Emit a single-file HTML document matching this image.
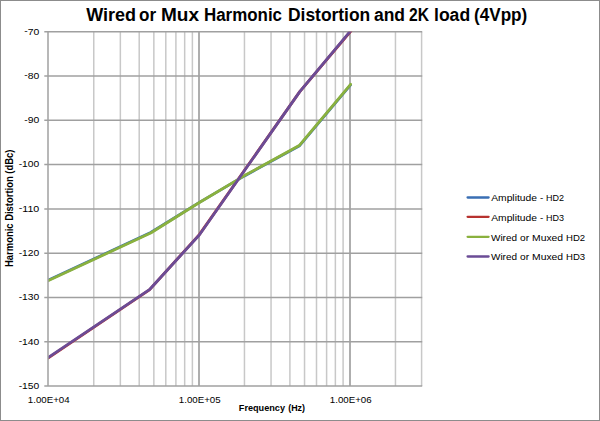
<!DOCTYPE html>
<html><head><meta charset="utf-8"><title>Wired or Mux Harmonic Distortion and 2K load (4Vpp)</title>
<style>
html,body{margin:0;padding:0;background:#fff;width:600px;height:421px;overflow:hidden}
svg{display:block}
text{font-family:"Liberation Sans",Arial,sans-serif}
</style></head>
<body>
<svg width="600" height="421" viewBox="0 0 600 421">
<rect x="0.5" y="0.5" width="599" height="420" fill="#ffffff" stroke="#8c8c8c" stroke-width="1"/>
<g stroke="#c8c8c8" stroke-width="1.5"><line x1="93.76" y1="31.70" x2="93.76" y2="386.10"/><line x1="120.35" y1="31.70" x2="120.35" y2="386.10"/><line x1="139.21" y1="31.70" x2="139.21" y2="386.10"/><line x1="153.84" y1="31.70" x2="153.84" y2="386.10"/><line x1="165.80" y1="31.70" x2="165.80" y2="386.10"/><line x1="175.91" y1="31.70" x2="175.91" y2="386.10"/><line x1="184.67" y1="31.70" x2="184.67" y2="386.10"/><line x1="192.39" y1="31.70" x2="192.39" y2="386.10"/><line x1="199.00" y1="31.70" x2="199.00" y2="386.10"/><line x1="244.46" y1="31.70" x2="244.46" y2="386.10"/><line x1="271.05" y1="31.70" x2="271.05" y2="386.10"/><line x1="289.91" y1="31.70" x2="289.91" y2="386.10"/><line x1="304.54" y1="31.70" x2="304.54" y2="386.10"/><line x1="316.50" y1="31.70" x2="316.50" y2="386.10"/><line x1="326.61" y1="31.70" x2="326.61" y2="386.10"/><line x1="335.37" y1="31.70" x2="335.37" y2="386.10"/><line x1="343.09" y1="31.70" x2="343.09" y2="386.10"/><line x1="350.00" y1="31.70" x2="350.00" y2="386.10"/><line x1="395.46" y1="31.70" x2="395.46" y2="386.10"/><line x1="421.60" y1="31.70" x2="421.60" y2="386.10"/></g>
<g stroke="#a0a0a0" stroke-width="1.5"><line x1="199.00" y1="31.70" x2="199.00" y2="386.10"/><line x1="350.00" y1="31.70" x2="350.00" y2="386.10"/><line x1="44.3" y1="31.70" x2="422.20" y2="31.70"/><line x1="44.3" y1="76.00" x2="422.20" y2="76.00"/><line x1="44.3" y1="120.30" x2="422.20" y2="120.30"/><line x1="44.3" y1="164.60" x2="422.20" y2="164.60"/><line x1="44.3" y1="208.90" x2="422.20" y2="208.90"/><line x1="44.3" y1="253.20" x2="422.20" y2="253.20"/><line x1="44.3" y1="297.50" x2="422.20" y2="297.50"/><line x1="44.3" y1="341.80" x2="422.20" y2="341.80"/><line x1="44.3" y1="386.10" x2="422.20" y2="386.10"/></g>
<clipPath id="pc"><rect x="48.00" y="31.70" width="373.60" height="354.40"/></clipPath>
<g clip-path="url(#pc)" fill="none" stroke-width="2.8" stroke-linejoin="round" stroke-linecap="round">
<polyline points="48.00,280.30 150.70,232.50 199.00,202.60 244.50,175.90 299.60,145.70 350.60,84.80" stroke="#3a6fb4"/>
<polyline points="48.00,358.10 149.40,289.90 199.30,234.60 299.80,91.60 351.30,30.50" stroke="#b7322f"/>
<polyline points="48.00,280.80 150.70,233.00 199.00,202.80 244.50,175.60 299.60,145.20 350.60,84.30" stroke="#8ab13e"/>
<polyline points="48.00,357.60 149.40,289.70 199.30,235.00 299.80,91.60 351.30,30.00" stroke="#6b4c96"/>
</g>
<line x1="48.00" y1="31.70" x2="48.00" y2="386.10" stroke="#a0a0a0" stroke-width="1.5"/>
<g font-size="17.6" font-weight="bold" fill="#000"><text x="86.2" y="20.5" textLength="49.81" lengthAdjust="spacingAndGlyphs">Wired</text><text x="139.0" y="20.5" textLength="17.1" lengthAdjust="spacingAndGlyphs">or</text><text x="161.0" y="20.5" textLength="38.07" lengthAdjust="spacingAndGlyphs">Mux</text><text x="204.0" y="20.5" textLength="78.03" lengthAdjust="spacingAndGlyphs">Harmonic</text><text x="288.0" y="20.5" textLength="82.24" lengthAdjust="spacingAndGlyphs">Distortion</text><text x="374.0" y="20.5" textLength="31.03" lengthAdjust="spacingAndGlyphs">and</text><text x="409.0" y="20.5" textLength="20.0" lengthAdjust="spacingAndGlyphs">2K</text><text x="434.0" y="20.5" textLength="36.14" lengthAdjust="spacingAndGlyphs">load</text><text x="474.0" y="20.5" textLength="53.24" lengthAdjust="spacingAndGlyphs">(4Vpp)</text></g>
<text x="24.30" y="34.50" font-size="9.9" textLength="15.0" lengthAdjust="spacingAndGlyphs" fill="#000"><tspan dy="-0.4">-</tspan><tspan dy="0.4">70</tspan></text>
<text x="24.30" y="78.80" font-size="9.9" textLength="15.0" lengthAdjust="spacingAndGlyphs" fill="#000"><tspan dy="-0.4">-</tspan><tspan dy="0.4">80</tspan></text>
<text x="24.30" y="123.10" font-size="9.9" textLength="15.0" lengthAdjust="spacingAndGlyphs" fill="#000"><tspan dy="-0.4">-</tspan><tspan dy="0.4">90</tspan></text>
<text x="18.70" y="167.40" font-size="9.9" textLength="20.6" lengthAdjust="spacingAndGlyphs" fill="#000"><tspan dy="-0.4">-</tspan><tspan dy="0.4">100</tspan></text>
<text x="18.70" y="211.70" font-size="9.9" textLength="20.6" lengthAdjust="spacingAndGlyphs" fill="#000"><tspan dy="-0.4">-</tspan><tspan dy="0.4">110</tspan></text>
<text x="18.70" y="256.00" font-size="9.9" textLength="20.6" lengthAdjust="spacingAndGlyphs" fill="#000"><tspan dy="-0.4">-</tspan><tspan dy="0.4">120</tspan></text>
<text x="18.70" y="300.30" font-size="9.9" textLength="20.6" lengthAdjust="spacingAndGlyphs" fill="#000"><tspan dy="-0.4">-</tspan><tspan dy="0.4">130</tspan></text>
<text x="18.70" y="344.60" font-size="9.9" textLength="20.6" lengthAdjust="spacingAndGlyphs" fill="#000"><tspan dy="-0.4">-</tspan><tspan dy="0.4">140</tspan></text>
<text x="18.70" y="388.90" font-size="9.9" textLength="20.6" lengthAdjust="spacingAndGlyphs" fill="#000"><tspan dy="-0.4">-</tspan><tspan dy="0.4">150</tspan></text>
<text x="27.80" y="403.3" font-size="9.9" textLength="41.8" lengthAdjust="spacingAndGlyphs" fill="#000">1.00E+04</text>
<text x="178.80" y="403.3" font-size="9.9" textLength="41.8" lengthAdjust="spacingAndGlyphs" fill="#000">1.00E+05</text>
<text x="329.80" y="403.3" font-size="9.9" textLength="41.8" lengthAdjust="spacingAndGlyphs" fill="#000">1.00E+06</text>
<g font-size="9.7" font-weight="bold" fill="#000"><text x="238.8" y="411.2" textLength="46.2" lengthAdjust="spacingAndGlyphs">Frequency</text><text x="288.2" y="411.2" textLength="16.82" lengthAdjust="spacingAndGlyphs">(Hz)</text></g>
<text transform="translate(13.0,267) rotate(-90)" x="0" y="0" font-size="10.0" font-weight="bold" textLength="117.5" lengthAdjust="spacingAndGlyphs" fill="#000">Harmonic Distortion (dBc)</text>
<line x1="467.6" y1="197.50" x2="488.6" y2="197.50" stroke="#3a6fb4" stroke-width="2.3" stroke-linecap="round"/>
<g font-size="9.6" fill="#000"><text x="491.2" y="201.0" textLength="45.8" lengthAdjust="spacingAndGlyphs">Amplitude</text><text x="540.0" y="201.0" textLength="3.25" lengthAdjust="spacingAndGlyphs">-</text><text x="546.0" y="201.0" textLength="18.02" lengthAdjust="spacingAndGlyphs">HD2</text></g>
<line x1="467.6" y1="216.80" x2="488.6" y2="216.80" stroke="#b7322f" stroke-width="2.3" stroke-linecap="round"/>
<g font-size="9.6" fill="#000"><text x="491.2" y="220.7" textLength="45.8" lengthAdjust="spacingAndGlyphs">Amplitude</text><text x="540.0" y="220.7" textLength="3.25" lengthAdjust="spacingAndGlyphs">-</text><text x="546.0" y="220.7" textLength="18.02" lengthAdjust="spacingAndGlyphs">HD3</text></g>
<line x1="467.6" y1="236.80" x2="488.6" y2="236.80" stroke="#8ab13e" stroke-width="2.3" stroke-linecap="round"/>
<g font-size="9.6" fill="#000"><text x="491.0" y="240.6" textLength="26.02" lengthAdjust="spacingAndGlyphs">Wired</text><text x="520.0" y="240.6" textLength="9.0" lengthAdjust="spacingAndGlyphs">or</text><text x="532.0" y="240.6" textLength="31.09" lengthAdjust="spacingAndGlyphs">Muxed</text><text x="566.0" y="240.6" textLength="19.16" lengthAdjust="spacingAndGlyphs">HD2</text></g>
<line x1="467.6" y1="256.50" x2="488.6" y2="256.50" stroke="#6b4c96" stroke-width="2.3" stroke-linecap="round"/>
<g font-size="9.6" fill="#000"><text x="491.0" y="260.3" textLength="26.02" lengthAdjust="spacingAndGlyphs">Wired</text><text x="520.0" y="260.3" textLength="9.0" lengthAdjust="spacingAndGlyphs">or</text><text x="532.0" y="260.3" textLength="31.09" lengthAdjust="spacingAndGlyphs">Muxed</text><text x="566.0" y="260.3" textLength="19.16" lengthAdjust="spacingAndGlyphs">HD3</text></g>
</svg>
</body></html>
